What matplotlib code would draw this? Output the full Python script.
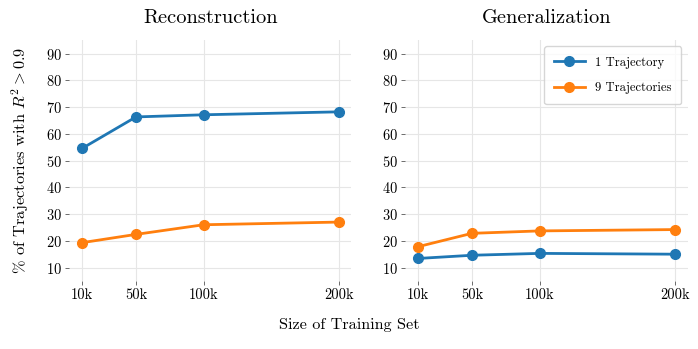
import matplotlib
matplotlib.use("Agg")
import matplotlib.pyplot as plt

plt.rcParams.update({
    "font.family": "serif",
    "font.serif": ["cmr10", "DejaVu Serif"],
    "mathtext.fontset": "cm",
    "axes.formatter.use_mathtext": True,
    "axes.unicode_minus": False,
})

sizes = [10, 50, 100, 200]
size_labels = ["10k", "50k", "100k", "200k"]
panel_titles = ["Reconstruction", "Generalization"]
series_labels = ["1 Trajectory", "9 Trajectories"]

recon_one = [54.5, 66.3, 67.1, 68.2]
recon_nine = [19.3, 22.4, 26.0, 27.0]
gen_one = [13.4, 14.6, 15.3, 15.0]
gen_nine = [17.8, 22.8, 23.7, 24.2]

colors = ["#1f77b4", "#ff7f0e"]

fig, axes = plt.subplots(1, 2, figsize=(6.98, 3.49), dpi=100)
fig.subplots_adjust(left=0.099, right=0.985, top=0.885, bottom=0.195, wspace=0.19)

for ax, title, (one, nine) in zip(axes, panel_titles,
                                  [(recon_one, recon_nine), (gen_one, gen_nine)]):
    ax.plot(sizes, one, marker="o", color=colors[0], lw=2, ms=7, label=series_labels[0], zorder=3)
    ax.plot(sizes, nine, marker="o", color=colors[1], lw=2, ms=7, label=series_labels[1], zorder=3)
    ax.set_title(title, fontsize=14.7, pad=12)
    ax.set_xticks(sizes)
    ax.set_xticklabels(size_labels)
    ax.set_yticks(range(10, 100, 10))
    ax.set_ylim(5, 95)
    ax.grid(True, color="#e6e6e6", lw=0.8, zorder=0)
    for s in ax.spines.values():
        s.set_visible(False)
    ax.tick_params(axis="both", labelsize=10.4, length=3, width=0.6, color="#555555", pad=2)

axes[0].set_ylabel(r"% of Trajectories with $R^2 > 0.9$", fontsize=11.8, labelpad=11)
axes[1].legend(loc="upper right", fontsize=9.1, frameon=True, borderpad=0.8, labelspacing=1.05,
               handlelength=2.4, edgecolor="#cccccc")
fig.supxlabel("Size of Training Set", fontsize=11.7, y=0.05)

fig.savefig("out.png", dpi=100)
